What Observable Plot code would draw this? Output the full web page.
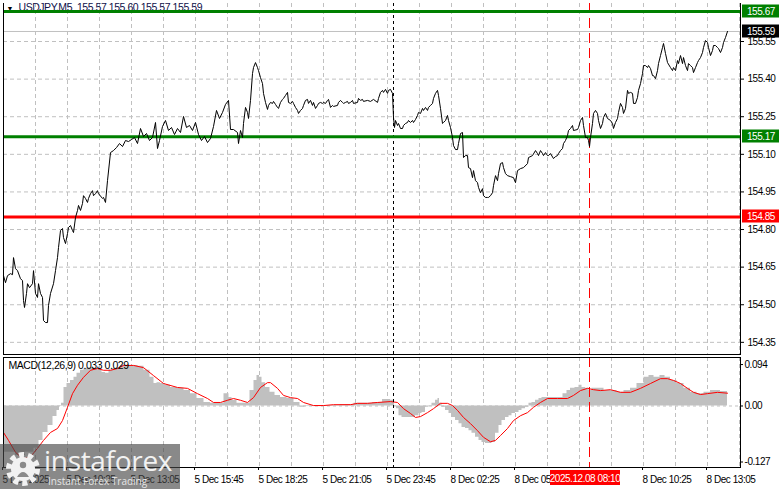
<!DOCTYPE html>
<html><head><meta charset="utf-8">
<script src="https://cdn.jsdelivr.net/npm/d3@7"></script>
<script src="https://cdn.jsdelivr.net/npm/@observablehq/plot@0.6"></script>
<style>
html,body{margin:0;padding:0;background:#fff;}
#chart{position:relative;width:781px;height:489px;overflow:hidden;background:#fff;}
#chart svg.plot{position:absolute;left:0;}
#logo{position:absolute;left:0;top:444px;width:180px;height:45px;background:rgba(70,70,70,0.64);z-index:5;}
#logo .brand{position:absolute;left:44px;top:2px;font-family:"Open Sans",sans-serif;font-size:28px;line-height:28px;color:#f2f2f2;letter-spacing:-0.3px;}
#logo .slogan{position:absolute;left:48px;top:32px;font-family:"Open Sans",sans-serif;font-size:10px;line-height:10px;color:#e6e6e6;}
#logo svg{position:absolute;left:4px;top:6px;}
</style></head><body><div id="chart"></div><script>
// ---------- data ----------
const symbol = "USDJPY,M5";
const quote = [155.57, 155.60, 155.57, 155.59];
const bidPrice = 155.59;
const priceTicks = [154.35, 154.50, 154.65, 154.80, 154.95, 155.10, 155.25, 155.40, 155.55];
const greenLevels = [155.67, 155.17];
const redLevels = [154.85];
const macdTicks = [0.094, 0.00, -0.127];
const macdTickLabels = ["0.094", "0.00", "-0.127"];
const timeLabels = [[0,"5 Dec 2025"],[32,"5 Dec 10:25"],[64,"5 Dec 13:05"],[96,"5 Dec 15:45"],[128,"5 Dec 18:25"],[160,"5 Dec 21:05"],[192,"5 Dec 23:45"],[224,"8 Dec 02:25"],[256,"8 Dec 05:05"],[320,"8 Dec 10:25"],[352,"8 Dec 13:05"]];
const daySeparatorBar = 195;
const cursorBar = 293;
const cursorLabel = "2025.12.08 08:10";
const totalBars = 368.5;

// close price per M5 bar (bar index from left edge, price)
const closeSeries = [[0,154.616],[1,154.588],[2,154.616],[3.5,154.624],[4.5,154.620],[5,154.688],[6,154.644],[7,154.636],[8.5,154.604],[9.5,154.596],[10,154.517],[10.5,154.489],[11.5,154.545],[12,154.584],[13,154.568],[14.5,154.584],[15,154.636],[16,154.545],[17,154.529],[17.5,154.584],[18.5,154.545],[19.5,154.529],[20,154.437],[21,154.429],[22,154.429],[22.5,154.497],[23.5,154.545],[25,154.584],[26,154.636],[27,154.688],[27.5,154.728],[28.5,154.796],[29.5,154.804],[30,154.768],[31,154.744],[32,154.784],[32.5,154.808],[33.5,154.816],[34.5,154.796],[35,154.788],[36,154.848],[37,154.876],[37.5,154.896],[38.5,154.876],[39.5,154.904],[40,154.935],[41,154.924],[42,154.908],[42.5,154.924],[43.5,154.943],[44.5,154.955],[45,154.935],[46,154.943],[47,154.955],[47.5,154.943],[49.5,154.924],[50,154.928],[51,154.908],[52,154.995],[53.5,155.107],[55,155.115],[56.5,155.127],[58,155.143],[59.5,155.131],[61,155.155],[62.5,155.151],[64,155.159],[65.5,155.167],[67,155.143],[68.5,155.203],[70,155.171],[71.5,155.183],[73,155.155],[74.5,155.167],[76,155.227],[77,155.123],[78,155.155],[79.5,155.211],[81,155.235],[82.5,155.195],[84,155.207],[85.5,155.179],[87,155.203],[88.5,155.187],[90,155.251],[91.5,155.207],[93,155.215],[94.5,155.195],[96,155.227],[97.5,155.179],[99,155.155],[100.5,155.171],[102,155.147],[103.5,155.163],[105,155.211],[106.5,155.275],[108,155.243],[109.5,155.267],[111,155.299],[112.5,155.315],[113.5,155.199],[115,155.199],[117,155.187],[117.5,155.143],[118.5,155.195],[119.5,155.167],[120,155.223],[121,155.287],[122,155.267],[122.5,155.243],[123.5,155.315],[124.5,155.422],[125,155.446],[126,155.466],[127,155.446],[127.5,155.434],[128.5,155.406],[129.5,155.382],[130,155.343],[131,155.307],[132,155.279],[132.5,155.295],[133.5,155.307],[134.5,155.303],[135,155.311],[136,155.299],[137,155.287],[137.5,155.283],[138.5,155.307],[139.5,155.319],[140,155.323],[141,155.335],[142,155.347],[142.5,155.307],[143.5,155.303],[144.5,155.311],[145,155.303],[146,155.287],[147,155.275],[147.5,155.263],[148.5,155.275],[149.5,155.283],[150,155.295],[151,155.315],[152,155.319],[152.5,155.303],[153.5,155.315],[154.5,155.295],[155,155.307],[156,155.283],[157,155.295],[157.5,155.303],[158.5,155.307],[159.5,155.303],[160,155.307],[161,155.303],[162,155.315],[162.5,155.319],[163.5,155.287],[164.5,155.295],[165,155.291],[167,155.295],[167.5,155.307],[168.5,155.315],[169.5,155.307],[170,155.303],[171,155.307],[172,155.311],[172.5,155.303],[173.5,155.307],[174.5,155.315],[175,155.303],[177,155.307],[177.5,155.323],[178.5,155.315],[179.5,155.319],[180,155.311],[182,155.315],[183.5,155.311],[185,155.319],[187,155.307],[187.5,155.323],[188.5,155.347],[189.5,155.355],[190,155.347],[191,155.359],[192,155.343],[192.5,155.355],[193.5,155.359],[194.5,155.343],[195,155.247],[195.5,155.207],[196,155.235],[197,155.215],[197.5,155.223],[198.5,155.203],[199.5,155.203],[200,155.215],[201,155.223],[202,155.227],[202.5,155.235],[203.5,155.227],[204.5,155.235],[205,155.227],[206,155.239],[207,155.255],[207.5,155.267],[208.5,155.263],[209.5,155.283],[210,155.275],[211,155.287],[212,155.275],[212.5,155.287],[213.5,155.295],[214.5,155.303],[215,155.323],[216,155.343],[217,155.355],[217.5,155.335],[218.5,155.283],[219.5,155.223],[220,155.227],[221,155.235],[222,155.255],[222.5,155.235],[223.5,155.207],[224.5,155.167],[225,155.135],[226,155.119],[227,155.119],[227.5,155.143],[228.5,155.183],[229.5,155.187],[230,155.087],[231,155.095],[232,155.095],[232.5,155.047],[233.5,155.043],[234.5,155.007],[235,155.035],[236,154.995],[237,154.987],[237.5,154.968],[238.5,154.947],[239.5,154.963],[240,154.935],[241,154.928],[242,154.928],[242.5,154.928],[243.5,154.935],[244.5,154.947],[245,154.975],[246,155.015],[247,154.995],[247.5,155.023],[248.5,155.063],[249.5,155.067],[250,155.047],[251,155.023],[252,155.015],[253.5,155.011],[255,155.007],[256,154.987],[257,155.035],[258.5,155.043],[260,155.047],[262,155.063],[262.5,155.087],[264.5,155.095],[266,155.115],[267,155.103],[267.5,155.095],[268.5,155.115],[269.5,155.103],[270,155.095],[271,155.107],[272,155.095],[272.5,155.095],[273.5,155.103],[275,155.083],[276,155.091],[277,155.095],[277.5,155.103],[278.5,155.115],[279.5,155.123],[280,155.143],[281,155.155],[282,155.175],[282.5,155.195],[283.5,155.203],[284.5,155.215],[285,155.195],[287,155.199],[287.5,155.207],[288.5,155.235],[289.5,155.247],[290,155.215],[291,155.167],[292,155.167],[292.5,155.155],[293,155.131],[293.5,155.167],[294.5,155.223],[295,155.263],[296,155.275],[297,155.263],[297.5,155.235],[298.5,155.203],[299.5,155.223],[300,155.247],[301,155.263],[302,155.243],[303.5,155.235],[304.5,155.223],[305,155.203],[306,155.227],[307,155.243],[307.5,155.267],[308.5,155.303],[309.5,155.287],[310,155.263],[311,155.283],[312,155.355],[312.5,155.343],[313.5,155.347],[314.5,155.343],[315,155.303],[316,155.303],[317,155.327],[317.5,155.355],[318.5,155.382],[319.5,155.422],[320,155.454],[321,155.454],[322,155.446],[322.5,155.454],[323.5,155.442],[324.5,155.414],[325,155.414],[326,155.402],[327,155.434],[327.5,155.462],[328.5,155.494],[329.5,155.526],[330,155.542],[331,155.502],[332,155.466],[333.5,155.446],[334.5,155.434],[335,155.446],[336,155.434],[337,155.474],[337.5,155.462],[338.5,155.494],[339.5,155.462],[340,155.486],[341,155.454],[342,155.434],[342.5,155.462],[343.5,155.454],[344.5,155.446],[345,155.426],[346,155.446],[347,155.466],[347.5,155.474],[348.5,155.486],[349.5,155.506],[350,155.526],[351,155.554],[352,155.546],[352.5,155.526],[353.5,155.494],[354.5,155.514],[355,155.534],[356,155.534],[357,155.526],[357.5,155.522],[358.5,155.506],[359.5,155.526],[360,155.546],[361,155.566],[362,155.590]];

// MACD(12,26,9) main value (histogram)
const macdSeries = [[0,-0.105],[3.5,-0.105],[8.5,-0.112],[13.5,-0.105],[17,-0.096],[18.5,-0.078],[21,-0.060],[23.5,-0.044],[26,-0.024],[27.5,-0.010],[28.5,0.001],[29.5,0.006],[31,0.042],[32.5,0.051],[34.5,0.058],[36,0.065],[37.5,0.074],[39.5,0.081],[41,0.085],[42.5,0.087],[44.5,0.087],[47,0.085],[48.5,0.085],[50,0.076],[52,0.074],[53.5,0.081],[55,0.085],[57.5,0.087],[60,0.092],[62.5,0.092],[66,0.092],[68.5,0.090],[72,0.081],[74.5,0.065],[76,0.051],[77.5,0.053],[79.5,0.051],[82,0.047],[85,0.042],[88.5,0.040],[92,0.035],[95,0.028],[98.5,0.017],[102,0.008],[105,0.006],[108.5,0.006],[112,0.028],[113.5,0.019],[115,0.013],[118.5,0.006],[122,0.006],[124.5,0.035],[126,0.058],[127.5,0.069],[128.5,0.065],[130,0.053],[132,0.042],[134.5,0.031],[137,0.024],[140,0.019],[143.5,0.017],[147,0.008],[149.5,-0.003],[152,0.001],[155,-0.001],[158.5,-0.001],[162,0.001],[165,0.001],[172,0.003],[178.5,0.006],[182,0.006],[187,0.008],[192,0.015],[195,0.013],[196,0.001],[197,-0.006],[198.5,-0.022],[200,-0.026],[205,-0.026],[207,-0.022],[208.5,-0.017],[210,-0.015],[212,-0.003],[213.5,0.001],[215,0.006],[217,0.013],[217.5,0.017],[218.5,0.006],[220,-0.003],[222,-0.010],[223.5,-0.017],[225,-0.026],[227,-0.033],[228.5,-0.040],[230,-0.049],[232,-0.051],[233.5,-0.056],[235,-0.062],[237,-0.071],[238.5,-0.078],[240,-0.083],[242,-0.085],[243.5,-0.085],[245,-0.083],[247,-0.062],[248.5,-0.044],[250,-0.033],[252,-0.026],[253.5,-0.022],[255,-0.017],[257,-0.015],[258.5,-0.010],[260,-0.006],[262,-0.003],[263.5,0.006],[265,0.008],[267,0.013],[268.5,0.017],[270,0.019],[278.5,0.019],[281,0.028],[282.5,0.035],[284.5,0.040],[287,0.042],[288.5,0.047],[290,0.042],[292,0.040],[293.5,0.035],[295,0.040],[298.5,0.040],[302,0.035],[305,0.035],[308.5,0.031],[312,0.035],[315,0.040],[318.5,0.051],[322,0.065],[323.5,0.069],[327,0.065],[329.5,0.069],[332,0.065],[335,0.058],[338.5,0.051],[342,0.040],[345,0.031],[348.5,0.028],[352,0.031],[355,0.035],[362,0.033]];

// MACD signal line
const signalSeries = [[0,-0.060],[2.5,-0.078],[6,-0.105],[9.5,-0.119],[13.5,-0.115],[17,-0.096],[20,-0.078],[23.5,-0.060],[27,-0.051],[29.5,-0.033],[32,-0.003],[34.5,0.028],[37,0.047],[40,0.065],[43.5,0.081],[47,0.085],[50,0.081],[53.5,0.081],[57,0.085],[60,0.092],[65,0.092],[70,0.087],[75,0.069],[80,0.051],[87,0.042],[92,0.040],[97,0.028],[102,0.017],[105,0.008],[108.5,0.008],[112,0.013],[115,0.017],[118.5,0.013],[122,0.008],[125,0.019],[128.5,0.042],[132,0.053],[133.5,0.053],[137,0.040],[140,0.024],[143.5,0.019],[147,0.017],[150,0.008],[155,0.001],[160,0.001],[165,0.003],[173.5,0.003],[177,0.006],[182,0.006],[187,0.008],[193.5,0.010],[197,0.008],[200,-0.006],[203.5,-0.017],[206,-0.026],[208.5,-0.024],[212,-0.015],[215,-0.006],[218.5,0.006],[222,0.006],[224.5,0.001],[227,-0.010],[230,-0.026],[233.5,-0.040],[237,-0.056],[240,-0.071],[243.5,-0.081],[246,-0.078],[248.5,-0.067],[252,-0.051],[255,-0.033],[258.5,-0.022],[262,-0.015],[265,-0.003],[268.5,0.008],[272,0.017],[277,0.017],[282,0.017],[285,0.024],[288.5,0.035],[292,0.040],[295,0.037],[298.5,0.035],[303.5,0.037],[308.5,0.031],[313.5,0.031],[318.5,0.040],[323.5,0.051],[328.5,0.062],[332,0.062],[335,0.058],[338.5,0.051],[342,0.040],[345,0.031],[348.5,0.026],[352,0.028],[357,0.031],[362,0.029]];

// ---------- drawing ----------
const FONT = '"Liberation Sans",Arial,sans-serif';
const LS = "-0.45px";
const GRID = "#c0c0c0";
const gridBars = d3.range(16, totalBars, 16);
const xScale = {domain: [0, totalBars], range: [3, 740], axis: null};
const header = `${symbol}  ${quote.map(v => v.toFixed(2)).join(" ")}`;
const macdLabel = `MACD(12,26,9) ${macdSeries.at(-1)[1].toFixed(3)} ${signalSeries.at(-1)[1].toFixed(3)}`;
const plotStyle = {fontFamily: FONT, fontSize: "10px", letterSpacing: LS, color: "#000", background: "transparent", overflow: "visible"};

function priceTags(values, fill) {
  return (index, scales, values_, dims) => {
    const g = d3.create("svg:g").attr("font-family", FONT).attr("font-size", 10).attr("letter-spacing", LS).attr("text-anchor", "start");
    const x0 = dims.width - dims.marginRight + 2;
    for (const v of values) {
      const y = Math.round(scales.y(v));
      g.append("rect").attr("x", x0).attr("y", y - 6.5).attr("width", 37).attr("height", 13).attr("fill", fill);
      g.append("text").attr("x", x0 + 5).attr("y", y).attr("dy", "0.36em").attr("fill", "#fff").text(v.toFixed(2));
    }
    return g.node();
  };
}
function cursorTag(index, scales, values_, dims) {
  const g = d3.create("svg:g").attr("font-family", FONT).attr("font-size", 10).attr("letter-spacing", LS);
  const cx = scales.x(cursorBar) - 4;
  const y0 = dims.height - dims.marginBottom + 3;
  g.append("rect").attr("x", cx - 35).attr("y", y0).attr("width", 70).attr("height", 15).attr("fill", "#ff0000");
  g.append("text").attr("x", cx).attr("y", y0 + 8).attr("dy", "0.36em").attr("text-anchor", "middle").attr("fill", "#fff").text(cursorLabel);
  return g.node();
}

const main = Plot.plot({
  width: 781, height: 356,
  marginLeft: 3, marginRight: 41, marginTop: 3, marginBottom: 2,
  style: plotStyle,
  x: xScale,
  y: {domain: [154.3015, 155.7016], range: [354, 3], axis: null},
  marks: [
    Plot.ruleY(priceTicks, {stroke: GRID, strokeDasharray: "4,3"}),
    Plot.ruleX(gridBars, {stroke: GRID, strokeDasharray: "4,3"}),
    Plot.ruleY([bidPrice], {stroke: GRID}),
    Plot.ruleX([daySeparatorBar], {stroke: "#000", strokeDasharray: "3,3"}),
    Plot.ruleX([cursorBar], {stroke: "#ff0000", strokeDasharray: "10,5"}),
    Plot.text([header], {frameAnchor: "top-left", textAnchor: "start", lineAnchor: "top", dx: 15, dy: 0, fill: "#10104a", fontSize: 10.5}),
    Plot.text(["▼"], {frameAnchor: "top-left", textAnchor: "start", lineAnchor: "top", dx: 3, dy: 3, fill: "#000", fontSize: 7}),
    Plot.ruleY(greenLevels, {stroke: "#008000", strokeWidth: 3}),
    Plot.ruleY(redLevels, {stroke: "#ff0000", strokeWidth: 3}),
    Plot.line(closeSeries, {x: d => d[0], y: d => d[1], stroke: "#000", strokeWidth: 1}),
    Plot.frame({anchor: "left", stroke: "#000"}),
    Plot.frame({anchor: "right", stroke: "#000"}),
    Plot.frame({anchor: "bottom", stroke: "#000"}),
    Plot.axisY({anchor: "right", ticks: priceTicks, tickSize: 3, tickPadding: 4, tickFormat: d => d.toFixed(2), fill: "#000", stroke: "#000"}),
    priceTags(greenLevels, "#008000"),
    priceTags([bidPrice], "#000"),
    priceTags(redLevels, "#ff0000")
  ]
});
main.classList.add("plot");
main.style.top = "0px";

const labelOf = new Map(timeLabels);
const macd = Plot.plot({
  width: 781, height: 133,
  marginLeft: 3, marginRight: 41, marginTop: 1, marginBottom: 22,
  style: plotStyle,
  x: xScale,
  y: {domain: [-0.13946, 0.10998], range: [111, 1], axis: null},
  marks: [
    Plot.ruleX(gridBars, {stroke: GRID, strokeDasharray: "4,3"}),
    Plot.areaY(macdSeries, {x: d => d[0], y: d => d[1], fill: "#c0c0c0", curve: "step"}),
    Plot.ruleY([0], {stroke: GRID, strokeDasharray: "3,3"}),
    Plot.line(signalSeries, {x: d => d[0], y: d => d[1], stroke: "#ff0000", strokeWidth: 1}),
    Plot.ruleX([daySeparatorBar], {stroke: "#000", strokeDasharray: "3,3"}),
    Plot.ruleX([cursorBar], {stroke: "#ff0000", strokeDasharray: "10,5"}),
    Plot.frame({stroke: "#000"}),
    Plot.text([macdLabel], {frameAnchor: "top-left", textAnchor: "start", lineAnchor: "top", dx: 5, dy: 4, fill: "#000", fontSize: 10.5}),
    Plot.axisY({anchor: "right", ticks: macdTicks, tickSize: 2, tickPadding: 2, tickFormat: d => macdTickLabels[macdTicks.indexOf(d)], fill: "#000", stroke: "#000"}),
    Plot.axisX({anchor: "bottom", ticks: timeLabels.map(d => d[0]), tickSize: 3, tickPadding: 5, tickFormat: d => labelOf.get(d), textAnchor: "start", dx: -1, fill: "#000", stroke: "#000"}),
    cursorTag
  ]
});
macd.classList.add("plot");
macd.style.top = "356px";

const chart = document.getElementById("chart");
chart.append(main, macd);

const logo = document.createElement("div");
logo.id = "logo";
logo.innerHTML = `<svg width="38" height="38" viewBox="0 0 38 38">
  <circle cx="19" cy="19" r="14" fill="none" stroke="#f2f2f2" stroke-width="6" stroke-dasharray="5 3.8"/>
  <circle cx="19" cy="19" r="12" fill="#f2f2f2"/>
  <circle cx="19" cy="15" r="3.2" fill="#8a8a8a"/>
  <path d="M13 27 Q19 17 25 27 Z" fill="#8a8a8a"/>
</svg><div class="brand">instaforex</div><div class="slogan">Instant Forex Trading</div>`;
chart.append(logo);
</script></body></html>
